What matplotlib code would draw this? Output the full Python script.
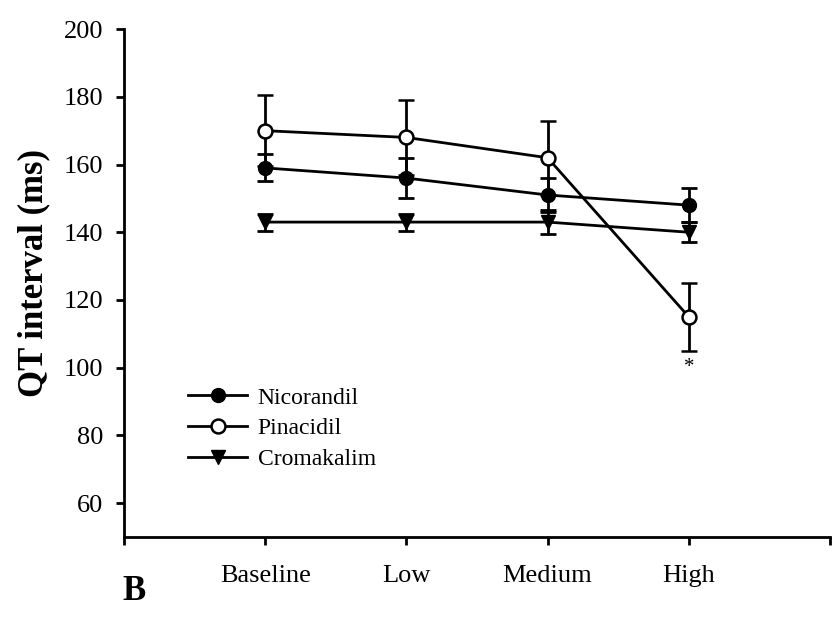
import matplotlib
matplotlib.use('Agg')
import matplotlib.pyplot as plt

plt.rcParams['font.family'] = ['Liberation Serif', 'DejaVu Serif']

doses = ['Baseline', 'Low', 'Medium', 'High']
x = [1, 2, 3, 4]

nicorandil = [159, 156, 151, 148]
nicorandil_err = [4, 6, 5, 5]
pinacidil = [170, 168, 162, 115]
pinacidil_err = [10.5, 11, 11, 10]
cromakalim = [143, 143, 143, 140]
cromakalim_err = [2.5, 2.5, 3.5, 3]

fig = plt.figure(figsize=(8.35, 6.19), dpi=100)
ax = fig.add_axes([0.1485, 0.1325, 0.8455, 0.8205])

common = dict(color='black', lw=2, capsize=6, capthick=2, elinewidth=2, markersize=10)
eb_n = ax.errorbar(x, nicorandil, yerr=nicorandil_err, marker='o', mfc='black', mec='black',
                   label='Nicorandil', zorder=3, **common)
eb_p = ax.errorbar(x, pinacidil, yerr=pinacidil_err, marker='o', mfc='white', mec='black',
                   mew=1.8, label='Pinacidil', zorder=4, **common)
eb_c = ax.errorbar(x, cromakalim, yerr=cromakalim_err, marker='v', mfc='black', mec='black',
                   label='Cromakalim', zorder=3, **common)

# significance mark under the high-dose pinacidil point
ax.text(4, 100, '*', ha='center', va='center', fontsize=15)

ax.set_xlim(0, 5)
ax.set_ylim(50, 200)
ax.set_xticks([0, 1, 2, 3, 4, 5])
ax.set_xticklabels([''] + doses + [''])
ax.set_yticks(range(60, 201, 20))

for side in ['top', 'right']:
    ax.spines[side].set_visible(False)
for side in ['left', 'bottom']:
    ax.spines[side].set_linewidth(2)

ax.tick_params(axis='both', direction='out', length=6, width=2, labelsize=19)
ax.tick_params(axis='x', pad=14)
ax.tick_params(axis='y', pad=9)

ax.set_ylabel('QT interval (ms)', fontsize=25, fontweight='bold')
ax.yaxis.set_label_coords(-0.105, 0.52)

# legend shows only line + marker, no error bars
handles = [eb_n[0], eb_p[0], eb_c[0]]
ax.legend(handles=handles, labels=['Nicorandil', 'Pinacidil', 'Cromakalim'],
          loc='upper left', bbox_to_anchor=(188 / 835, 1 - 387 / 619),
          bbox_transform=fig.transFigure, frameon=False, fontsize=17,
          handlelength=2.5, handletextpad=0.45, labelspacing=0.4, borderpad=0,
          borderaxespad=0)

fig.text(134 / 835, 1 - 592 / 619, 'B', fontsize=25, fontweight='bold',
         ha='center', va='center')

fig.savefig('out.png', dpi=100)
